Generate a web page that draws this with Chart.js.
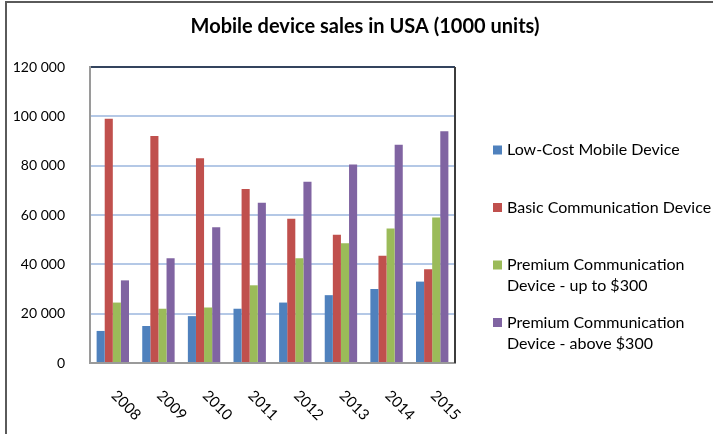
<!DOCTYPE html>
<html>
<head>
<meta charset="utf-8">
<title>Mobile device sales in USA</title>
<script src="https://cdn.jsdelivr.net/npm/chart.js@4/dist/chart.umd.min.js"></script>
<style>
  html, body { margin: 0; padding: 0; background: #fff; }
  #wrap { position: relative; width: 713px; height: 434px; }
</style>
</head>
<body>
<div id="wrap"><canvas id="salesChart" width="713" height="434"></canvas></div>
<script>
// Sales data (1000 units)
const years = ['2008', '2009', '2010', '2011', '2012', '2013', '2014', '2015'];
const lowCost = [13000, 15000, 19000, 22000, 24500, 27500, 30000, 33000];
const basicComm = [99000, 92000, 83000, 70500, 58500, 52000, 43500, 38000];
const premiumUpTo300 = [24500, 22000, 22500, 31500, 42500, 48500, 54500, 59000];
const premiumAbove300 = [33500, 42500, 55000, 65000, 73500, 80500, 88500, 94000];
const seriesNames = [
    'Low-Cost Mobile Device',
    'Basic Communication Device',
    'Premium Communication\nDevice - up to $300',
    'Premium Communication\nDevice - above $300'
];
const yTicks = [0, 20000, 40000, 60000, 80000, 100000, 120000];
const chartTitle = 'Mobile device sales in USA (1000 units)';

const FONT = 'Lato, "Liberation Sans", sans-serif';
const colors = ['#4F81BD', '#C0504D', '#9BBB59', '#8064A2'];

function formatThousands(v) {
    return String(v).replace(/\B(?=(\d{3})+(?!\d))/g, ' ');
}

// background, outer frame, title and plot border
const framePlugin = {
    id: 'frame',
    beforeDraw(chart) {
        const ctx = chart.ctx;
        ctx.save();
        ctx.fillStyle = '#fff';
        ctx.fillRect(0, 0, chart.width, chart.height);
        ctx.strokeStyle = '#5a5a5a';
        ctx.lineWidth = 2;
        ctx.beginPath();
        ctx.moveTo(6, chart.height);
        ctx.lineTo(6, 2);
        ctx.lineTo(chart.width, 2);
        ctx.stroke();
        ctx.restore();
    },
    afterDraw(chart) {
        const ctx = chart.ctx;
        const area = chart.chartArea;
        ctx.save();
        // right edge of the plot area
        ctx.strokeStyle = '#3c3c3c';
        ctx.lineWidth = 2;
        ctx.beginPath();
        ctx.moveTo(area.right, area.top);
        ctx.lineTo(area.right, area.bottom);
        ctx.stroke();

        ctx.fillStyle = '#000';
        ctx.font = 'bold 20px ' + FONT;
        ctx.textAlign = 'center';
        ctx.textBaseline = 'middle';
        ctx.fillText(chartTitle, 365, 27);
        ctx.restore();
    }
};

// slanted year labels under the x axis
const yearLabelsPlugin = {
    id: 'yearLabels',
    afterDraw(chart) {
        const ctx = chart.ctx;
        const xScale = chart.scales.x;
        ctx.save();
        ctx.fillStyle = '#000';
        ctx.font = '15px ' + FONT;
        ctx.textAlign = 'left';
        ctx.textBaseline = 'middle';
        years.forEach((label, i) => {
            const x = xScale.getPixelForTick(i);
            ctx.save();
            ctx.translate(x + 1, xScale.top + 30);
            ctx.rotate(Math.PI / 4);
            ctx.fillText(label, 0, 0);
            ctx.restore();
        });
        ctx.restore();
    }
};

// legend on the right, wrapped labels
const sideLegendPlugin = {
    id: 'sideLegend',
    afterDraw(chart) {
        const ctx = chart.ctx;
        const boxX = 493, textX = 507, firstY = 150, step = 57.5, lineH = 21;
        ctx.save();
        ctx.font = '16px ' + FONT;
        ctx.textAlign = 'left';
        ctx.textBaseline = 'middle';
        chart.data.datasets.forEach((ds, i) => {
            const y = firstY + i * step;
            ctx.fillStyle = ds.backgroundColor;
            ctx.fillRect(boxX, y - 4.5, 9, 9);
            ctx.fillStyle = '#000';
            ds.label.split('\n').forEach((line, j) => {
                ctx.fillText(line, textX, y + j * lineH);
            });
        });
        ctx.restore();
    }
};

const seriesData = [lowCost, basicComm, premiumUpTo300, premiumAbove300];

const ctx = document.getElementById('salesChart').getContext('2d');
new Chart(ctx, {
    type: 'bar',
    data: {
        labels: years,
        datasets: seriesData.map((values, i) => ({
            label: seriesNames[i],
            data: values,
            backgroundColor: colors[i],
            borderWidth: 0,
            barPercentage: 1,
            categoryPercentage: 0.71
        }))
    },
    options: {
        responsive: false,
        animation: false,
        layout: { padding: { left: 0, right: 258, top: 67, bottom: 0 } },
        plugins: {
            legend: { display: false },
            title: { display: false },
            tooltip: { enabled: false }
        },
        scales: {
            x: {
                grid: { display: false },
                border: { color: '#9a9a9a', width: 2 },
                ticks: { display: false },
                afterFit(scale) { scale.height = 71; }
            },
            y: {
                min: 0,
                max: 120000,
                afterBuildTicks(scale) {
                    scale.ticks = yTicks.map(v => ({ value: v }));
                },
                grid: {
                    drawTicks: false,
                    lineWidth: 2,
                    color(c) {
                        if (c.tick.value === 120000) return '#34445e';
                        if (c.tick.value === 0) return 'rgba(0,0,0,0)';
                        return '#b4c8e6';
                    }
                },
                border: { color: '#9a9a9a', width: 2 },
                ticks: {
                    padding: 25,
                    color: '#000',
                    font: { family: FONT, size: 14 },
                    callback: v => formatThousands(v)
                },
                afterFit(scale) { scale.width = 90; }
            }
        }
    },
    plugins: [framePlugin, yearLabelsPlugin, sideLegendPlugin]
});
</script>
</body>
</html>
